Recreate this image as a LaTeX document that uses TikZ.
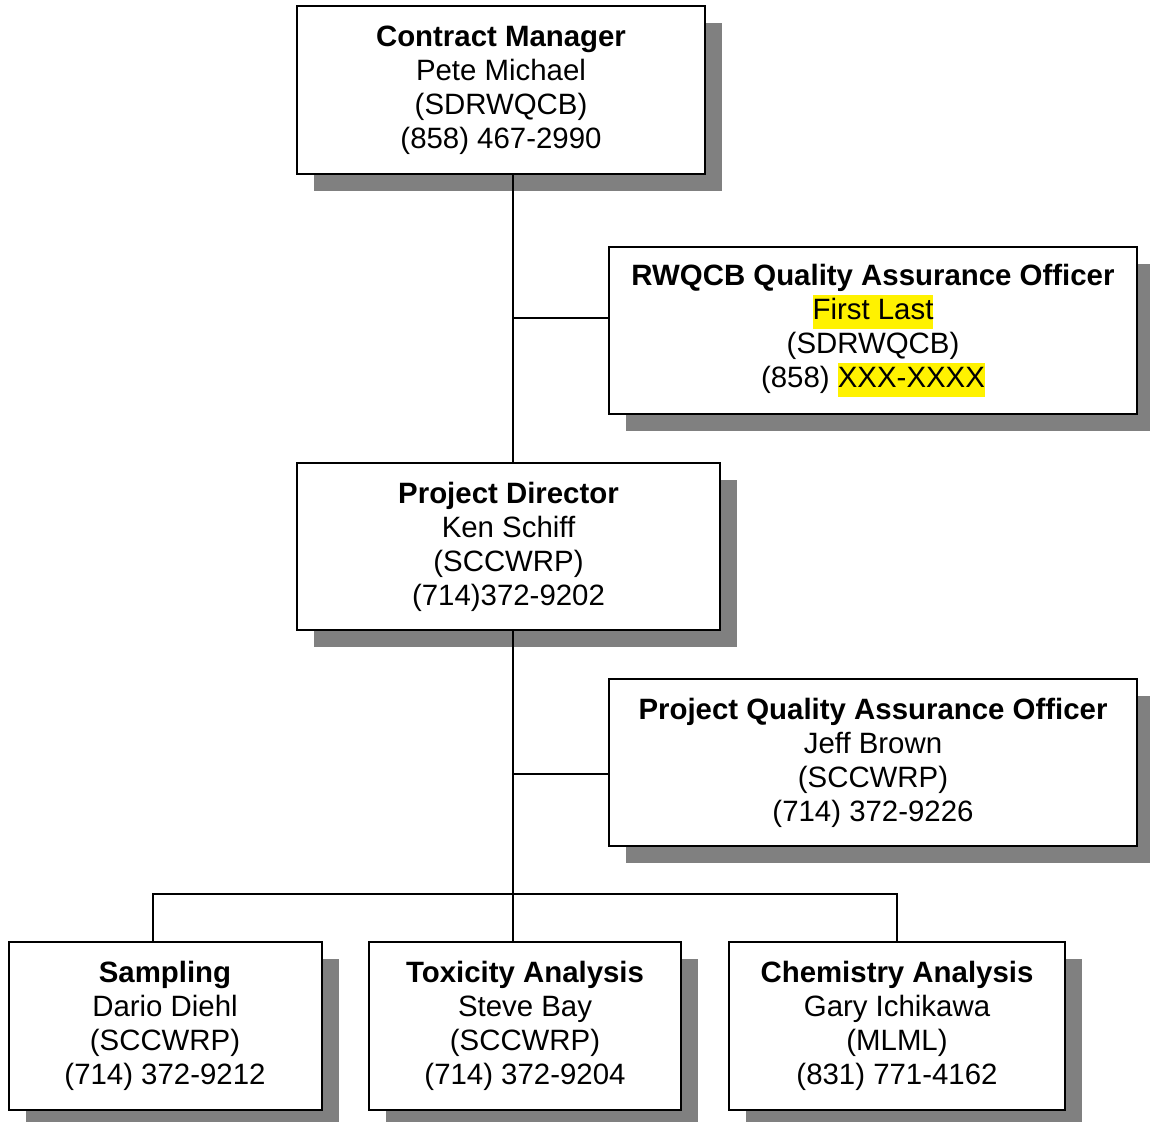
\documentclass[tikz,border=0pt]{standalone}
\usepackage{fontspec}
\setmainfont{Liberation Sans}
\usetikzlibrary{shadows}
\newcommand{\hilite}[1]{{\setlength{\fboxsep}{0pt}\colorbox{yellow}{\strut #1}}}
\newcommand{\orgentry}[4]{\textbf{#1}\\#2\\#3\\#4}

\begin{document}
\begin{tikzpicture}[x=0.5pt,y=-0.5pt,line width=1pt,
  org box/.style={draw,fill=white,align=center,inner sep=0pt,
    font=\fontsize{14.7}{17}\selectfont,
    drop shadow={shadow xshift=8.5pt,shadow yshift=-8.5pt,fill=gray,opacity=1}}]

  \useasboundingbox (0,0) rectangle (1150,1122);

  \node[org box, minimum width=204pt, minimum height=84pt] (cm) at (501, 90)
    {\orgentry{Contract Manager}{Pete Michael}{(SDRWQCB)}{(858) 467-2990}};
  \node[org box, minimum width=264pt, minimum height=83.5pt] (rqa) at (873, 330.5)
    {\orgentry{RWQCB Quality Assurance Officer}{\hilite{First Last}}{(SDRWQCB)}{(858) \hilite{XXX-XXXX}}};
  \node[org box, minimum width=211.5pt, minimum height=83.5pt] (pd) at (508.5, 546.5)
    {\orgentry{Project Director}{Ken Schiff}{(SCCWRP)}{(714)372-9202}};
  \node[org box, minimum width=264pt, minimum height=83.5pt] (pqa) at (873, 762.5)
    {\orgentry{Project Quality Assurance Officer}{Jeff Brown}{(SCCWRP)}{(714) 372-9226}};
  \node[org box, minimum width=156.5pt, minimum height=84pt] (samp) at (165, 1026)
    {\orgentry{Sampling}{Dario Diehl}{(SCCWRP)}{(714) 372-9212}};
  \node[org box, minimum width=156pt, minimum height=84pt] (tox) at (525, 1026)
    {\orgentry{Toxicity Analysis}{Steve Bay}{(SCCWRP)}{(714) 372-9204}};
  \node[org box, minimum width=168pt, minimum height=84pt] (chem) at (897, 1026)
    {\orgentry{Chemistry Analysis}{Gary Ichikawa}{(MLML)}{(831) 771-4162}};

  \coordinate (j1) at (513, 318);
  \coordinate (j2) at (513, 774);
  \coordinate (j3) at (513, 894);

  \draw (cm.south -| j1) -- (pd.north -| j1);
  \draw (j1) -- (j1 -| rqa.west);
  \draw (pd.south -| j2) -- (tox.north -| j2);
  \draw (j2) -- (j2 -| pqa.west);
  \draw ([xshift=-6pt]samp.north) |- (j3) -| (chem.north);

\end{tikzpicture}
\end{document}
